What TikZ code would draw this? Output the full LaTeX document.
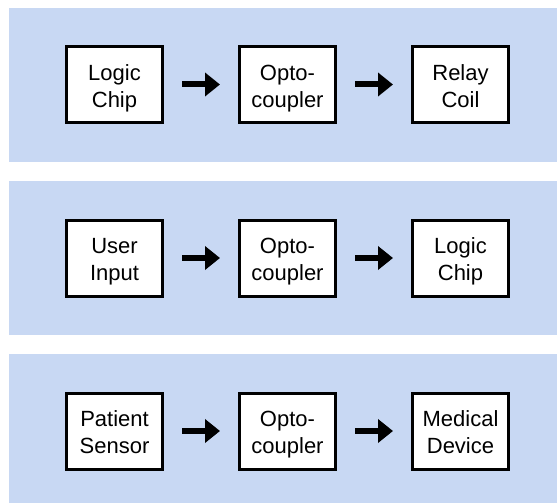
\documentclass[tikz,border=0pt]{standalone}
\usepackage{fontspec}
\setmainfont{Liberation Sans}
\usepackage{tikz}
\usetikzlibrary{arrows.meta}

\definecolor{bandblue}{RGB}{200,216,243}
% two lines of a block, on fixed baselines
\newcommand{\twolines}[2]{\rule{0pt}{24pt}#1\\#2\rule[-6pt]{0pt}{6pt}}

\begin{document}
\begin{tikzpicture}[x=1pt, y=-1pt,
  band/.style={fill=bandblue, draw=none},
  block/.style={draw, line width=3pt, fill=white, minimum width=96pt,
    minimum height=76pt, align=center, inner sep=0pt,
    font=\fontsize{22}{27}\selectfont},
  flow/.style={line width=6pt, -{Triangle[length=15pt, width=23pt]},
    shorten <=18pt, shorten >=18pt}
]
  \useasboundingbox (0,0) rectangle (557,503);
  % bands
  \fill[band] (9,8) rectangle (557,161.5);
  \fill[band] (9,181) rectangle (557,335);
  \fill[band] (9,354) rectangle (557,503);

  % row 1
  \node[block] (chip1) at (114.5,84.5) {\twolines{Logic}{Chip}};
  \node[block] (opto1) at (287.5,84.5) {\twolines{Opto-}{coupler}};
  \node[block] (relay) at (460.5,84.5) {\twolines{Relay}{Coil}};
  \draw[flow] (chip1) -- (opto1);
  \draw[flow] (opto1) -- (relay);

  % row 2
  \node[block] (user) at (114.5,258) {\twolines{User}{Input}};
  \node[block] (opto2) at (287.5,258) {\twolines{Opto-}{coupler}};
  \node[block] (chip2) at (460.5,258) {\twolines{Logic}{Chip}};
  \draw[flow] (user) -- (opto2);
  \draw[flow] (opto2) -- (chip2);

  % row 3
  \node[block] (sensor) at (114.5,431) {\twolines{Patient}{Sensor}};
  \node[block] (opto3) at (287.5,431) {\twolines{Opto-}{coupler}};
  \node[block] (device) at (460.5,431) {\twolines{Medical}{Device}};
  \draw[flow] (sensor) -- (opto3);
  \draw[flow] (opto3) -- (device);
\end{tikzpicture}
\end{document}
